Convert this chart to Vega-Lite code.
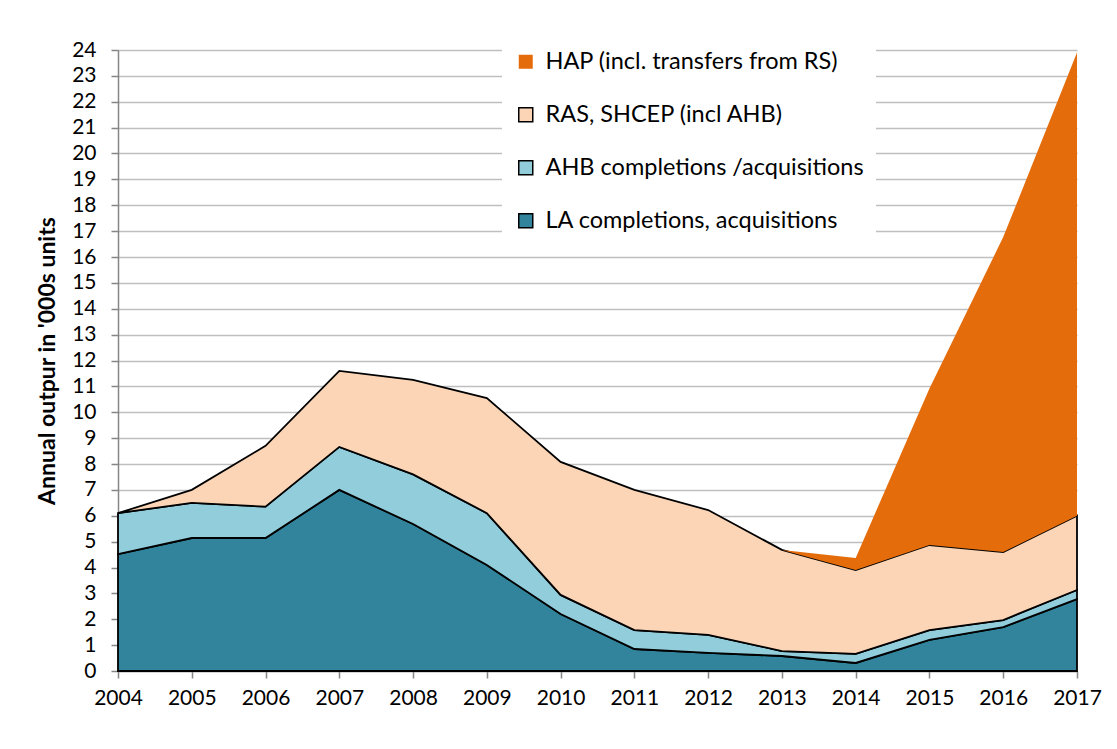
{
  "$schema": "https://vega.github.io/schema/vega-lite/v6.json",
  "autosize": "none",
  "width": 959,
  "height": 621,
  "padding": {"left": 118, "top": 50, "right": 40, "bottom": 78},
  "background": "white",
  "config": {
    "font": "Lato",
    "view": {"stroke": null},
    "axis": {"labelFont": "Lato", "titleFont": "Lato", "labelColor": "black", "titleColor": "black", "domainColor": "#868686", "tickColor": "#868686", "domainWidth": 1.5, "tickWidth": 1.5}
  },
  "data": {
    "values": [
      {"year": 2004, "series": "LA completions, acquisitions", "value": 4.52},
      {"year": 2005, "series": "LA completions, acquisitions", "value": 5.14},
      {"year": 2006, "series": "LA completions, acquisitions", "value": 5.14},
      {"year": 2007, "series": "LA completions, acquisitions", "value": 7.0},
      {"year": 2008, "series": "LA completions, acquisitions", "value": 5.68},
      {"year": 2009, "series": "LA completions, acquisitions", "value": 4.1},
      {"year": 2010, "series": "LA completions, acquisitions", "value": 2.2},
      {"year": 2011, "series": "LA completions, acquisitions", "value": 0.85},
      {"year": 2012, "series": "LA completions, acquisitions", "value": 0.7},
      {"year": 2013, "series": "LA completions, acquisitions", "value": 0.58},
      {"year": 2014, "series": "LA completions, acquisitions", "value": 0.31},
      {"year": 2015, "series": "LA completions, acquisitions", "value": 1.2},
      {"year": 2016, "series": "LA completions, acquisitions", "value": 1.7},
      {"year": 2017, "series": "LA completions, acquisitions", "value": 2.78},
      {"year": 2004, "series": "AHB completions /acquisitions", "value": 1.58},
      {"year": 2005, "series": "AHB completions /acquisitions", "value": 1.36},
      {"year": 2006, "series": "AHB completions /acquisitions", "value": 1.21},
      {"year": 2007, "series": "AHB completions /acquisitions", "value": 1.66},
      {"year": 2008, "series": "AHB completions /acquisitions", "value": 1.92},
      {"year": 2009, "series": "AHB completions /acquisitions", "value": 2.0},
      {"year": 2010, "series": "AHB completions /acquisitions", "value": 0.74},
      {"year": 2011, "series": "AHB completions /acquisitions", "value": 0.73},
      {"year": 2012, "series": "AHB completions /acquisitions", "value": 0.7},
      {"year": 2013, "series": "AHB completions /acquisitions", "value": 0.19},
      {"year": 2014, "series": "AHB completions /acquisitions", "value": 0.35},
      {"year": 2015, "series": "AHB completions /acquisitions", "value": 0.38},
      {"year": 2016, "series": "AHB completions /acquisitions", "value": 0.27},
      {"year": 2017, "series": "AHB completions /acquisitions", "value": 0.35},
      {"year": 2004, "series": "RAS, SHCEP (incl AHB)", "value": 0.0},
      {"year": 2005, "series": "RAS, SHCEP (incl AHB)", "value": 0.5},
      {"year": 2006, "series": "RAS, SHCEP (incl AHB)", "value": 2.35},
      {"year": 2007, "series": "RAS, SHCEP (incl AHB)", "value": 2.94},
      {"year": 2008, "series": "RAS, SHCEP (incl AHB)", "value": 3.65},
      {"year": 2009, "series": "RAS, SHCEP (incl AHB)", "value": 4.45},
      {"year": 2010, "series": "RAS, SHCEP (incl AHB)", "value": 5.14},
      {"year": 2011, "series": "RAS, SHCEP (incl AHB)", "value": 5.42},
      {"year": 2012, "series": "RAS, SHCEP (incl AHB)", "value": 4.82},
      {"year": 2013, "series": "RAS, SHCEP (incl AHB)", "value": 3.91},
      {"year": 2014, "series": "RAS, SHCEP (incl AHB)", "value": 3.24},
      {"year": 2015, "series": "RAS, SHCEP (incl AHB)", "value": 3.29},
      {"year": 2016, "series": "RAS, SHCEP (incl AHB)", "value": 2.63},
      {"year": 2017, "series": "RAS, SHCEP (incl AHB)", "value": 2.87},
      {"year": 2004, "series": "HAP (incl. transfers from RS)", "value": 0},
      {"year": 2005, "series": "HAP (incl. transfers from RS)", "value": 0},
      {"year": 2006, "series": "HAP (incl. transfers from RS)", "value": 0},
      {"year": 2007, "series": "HAP (incl. transfers from RS)", "value": 0},
      {"year": 2008, "series": "HAP (incl. transfers from RS)", "value": 0},
      {"year": 2009, "series": "HAP (incl. transfers from RS)", "value": 0},
      {"year": 2010, "series": "HAP (incl. transfers from RS)", "value": 0},
      {"year": 2011, "series": "HAP (incl. transfers from RS)", "value": 0},
      {"year": 2012, "series": "HAP (incl. transfers from RS)", "value": 0},
      {"year": 2013, "series": "HAP (incl. transfers from RS)", "value": 0},
      {"year": 2014, "series": "HAP (incl. transfers from RS)", "value": 0.47},
      {"year": 2015, "series": "HAP (incl. transfers from RS)", "value": 6.05},
      {"year": 2016, "series": "HAP (incl. transfers from RS)", "value": 12.17},
      {"year": 2017, "series": "HAP (incl. transfers from RS)", "value": 17.9}
    ]
  },
  "transform": [
    {"calculate": "indexof(['LA completions, acquisitions', 'AHB completions /acquisitions', 'RAS, SHCEP (incl AHB)', 'HAP (incl. transfers from RS)'], datum.series)", "as": "stack_rank"}
  ],
  "mark": {"type": "area", "stroke": "black", "strokeWidth": 1.8, "strokeJoin": "miter"},
  "encoding": {
    "x": {
      "field": "year", "type": "quantitative",
      "scale": {"domain": [2004, 2017], "nice": false, "zero": false},
      "axis": {"values": [2004,2005,2006,2007,2008,2009,2010,2011,2012,2013,2014,2015,2016,2017], "format": "d", "title": null, "grid": false, "labelFontSize": 21, "tickSize": 7, "labelPadding": 9, "labelFlush": false}
    },
    "y": {
      "field": "value", "type": "quantitative", "stack": "zero",
      "scale": {"domain": [0, 24], "nice": false},
      "axis": {"values": [0,1,2,3,4,5,6,7,8,9,10,11,12,13,14,15,16,17,18,19,20,21,22,23,24], "title": "Annual outpur in '000s units", "titleFontSize": 23, "titleFontWeight": "bold", "titlePadding": 12, "labelFontSize": 21, "tickSize": 7, "labelPadding": 15, "gridColor": "#bfbfbf", "gridWidth": 1.5}
    },
    "fill": {
      "field": "series", "type": "nominal",
      "scale": {
        "domain": ["LA completions, acquisitions", "AHB completions /acquisitions", "RAS, SHCEP (incl AHB)", "HAP (incl. transfers from RS)"],
        "range": ["#31849B", "#92CDDC", "#FBD5B5", "#E46C0A"]
      },
      "legend": {
        "title": null, "orient": "none", "legendX": 384, "legendY": -12,
        "values": ["HAP (incl. transfers from RS)", "RAS, SHCEP (incl AHB)", "AHB completions /acquisitions", "LA completions, acquisitions"],
        "fillColor": "white", "padding": 12, "labelFontSize": 23.5, "labelFont": "Lato", "labelColor": "black",
        "symbolType": "square", "symbolSize": 196, "symbolStrokeWidth": 1.5, "symbolOpacity": 1, "symbolStrokeColor": "black",
        "rowPadding": 28, "labelOffset": 8, "labelLimit": 450,
        "encode": {"symbols": {"update": {"stroke": {"signal": "datum.value === 'HAP (incl. transfers from RS)' ? 'transparent' : 'black'"}}}}
      }
    },
    "strokeOpacity": {
      "condition": {"test": "datum.series === 'HAP (incl. transfers from RS)'", "value": 0},
      "value": 1
    },
    "order": {"field": "stack_rank", "type": "quantitative", "sort": "ascending"}
  }
}
